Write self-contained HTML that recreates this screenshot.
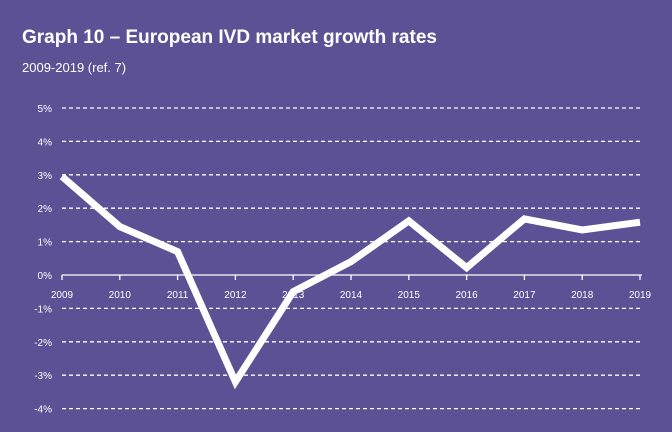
<!DOCTYPE html>
<html><head><meta charset="utf-8"><style>
body{margin:0;width:672px;height:427px;background:#5d5195;overflow:hidden;font-family:"Liberation Sans",sans-serif}
</style></head><body>
<svg width="672" height="427" id="c">
<text x="22" y="43" fill="#fff" font-size="19" font-weight="bold">Graph 10 – European IVD market growth rates</text>
<text x="22" y="72" fill="#fff" font-size="13">2009-2019 (ref. 7)</text>
</svg>
<script>
const years=['2009','2010','2011','2012','2013','2014','2015','2016','2017','2018','2019'];
const growth=[2.95,1.45,0.7,-3.2,-0.5,0.4,1.62,0.22,1.68,1.35,1.58];
const yTicks=[5,4,3,2,1,0,-1,-2,-3,-4];
const svg=document.getElementById('c');const NS='http://www.w3.org/2000/svg';
const x=i=>62+i*57.8;const y=v=>275-v*33.4;
function mk(t,a){const e=document.createElementNS(NS,t);for(const k in a)e.setAttribute(k,a[k]);svg.appendChild(e);return e;}
yTicks.forEach(v=>{
 const l=mk('text',{x:52,y:y(v)+4,fill:'#fff','font-size':10,'text-anchor':'end'});l.textContent=v+'%';
 
 
 if(v!==0){const g=mk('line',{x1:62,x2:642,y1:y(v),y2:y(v),stroke:'#fff','stroke-width':1.3,'stroke-dasharray':'4,3'});
 
 }
});
const ax=mk('line',{x1:62,x2:642,y1:y(0),y2:y(0),stroke:'#fff','stroke-width':1.3});


years.forEach((yr,i)=>{
 const t=mk('line',{x1:x(i),x2:x(i),y1:y(0),y2:y(0)+5,stroke:'#fff','stroke-width':1.3});
 
 
 const l=mk('text',{x:x(i),y:y(0)+23,fill:'#fff','font-size':10,'text-anchor':'middle'});l.textContent=yr;
 
 
});
const p=mk('polyline',{points:growth.map((v,i)=>x(i)+','+y(v)).join(' '),fill:'none',stroke:'#fff','stroke-width':7,'stroke-linejoin':'miter'});


</script>
</body></html>
